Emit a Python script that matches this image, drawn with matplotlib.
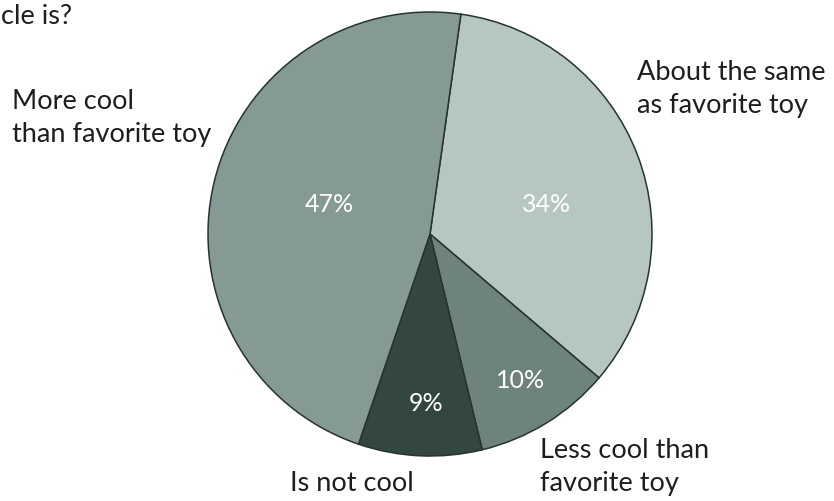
import matplotlib
matplotlib.use("Agg")
import matplotlib.pyplot as plt

# Survey responses, clockwise from the top
categories = ["About the same\nas favorite toy", "Less cool than\nfavorite toy",
              "Is not cool", "More cool\nthan favorite toy"]
shares = [34, 10, 9, 47]
colors = ["#b6c6c2", "#6f837e", "#33463f", "#869a95"]

W, H = 834, 502
fig = plt.figure(figsize=(W / 100, H / 100), dpi=100)
ax = fig.add_axes([0, 0, 1, 1])

cx, cy, r = 430, H - 235, 222
ax.pie(shares, colors=colors, startangle=82, counterclock=False,
       center=(cx, cy), radius=r, frame=True,
       wedgeprops=dict(edgecolor="#26332f", linewidth=1.1))
ax.set_xlim(0, W)
ax.set_ylim(0, H)
ax.set_aspect("equal")
ax.axis("off")

font = "Lato"
txt = "#1e1e1e"

# percentage labels inside the slices
pct_pos = [(547, 205), (521, 381), (426, 404), (329, 205)]
for v, (x, y) in zip(shares, pct_pos):
    ax.text(x, H - y, f"{v}%", color="white", fontsize=18, family=font,
            ha="center", va="center")

# category labels outside the pie
lab_pos = [(637, 89), (540, 467), (290, 484), (12, 118)]
for lab, (x, y) in zip(categories, lab_pos):
    ax.text(x, H - y, lab, color=txt, fontsize=19.5, family=font,
            ha="left", va="center", linespacing=1.38)

ax.text(1, H - 16, "cle is?", color=txt, fontsize=19.5, family=font,
        ha="left", va="center")

fig.savefig("out.png", dpi=100)
